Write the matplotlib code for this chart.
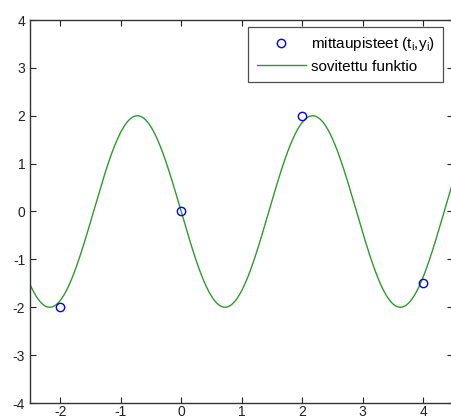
import numpy as np
import matplotlib
matplotlib.use("Agg")
import matplotlib.pyplot as plt

# measurement points (t_i, y_i)
t_points = [-2, 0, 2, 4]
y_points = [-2, 0, 2, -1.5]

# fitted function y = a*sin(w t) + b*cos(w t), coefficients
fit_a = -2.0
fit_b = 0.0
fit_w = 2.167

x_ticks = [-2, -1, 0, 1, 2, 3, 4]
y_ticks = [-4, -3, -2, -1, 0, 1, 2, 3, 4]
legend_labels = [r"mittaupisteet (t$_\mathregular{i}$,y$_\mathregular{i}$)", "sovitettu funktio"]

plt.rcParams['font.family'] = ['Liberation Sans', 'DejaVu Sans']
plt.rcParams['axes.unicode_minus'] = False
fig = plt.figure(figsize=(4.52, 4.19), dpi=100)
ax = fig.add_axes([30/452, 1 - 403/419, 423.3/452, 383/419])

t_fit = np.linspace(-2.5, 4.5, 800)
y_fit = fit_a * np.sin(fit_w * t_fit) + fit_b * np.cos(fit_w * t_fit)

ax.plot(t_points, y_points, 'o', mfc='none', mec='#0000ff', mew=1.0, ms=6,
        label=legend_labels[0], zorder=3)
ax.plot(t_fit, y_fit, '-', color='#2e9a2e', lw=1.0, label=legend_labels[1], zorder=2)

ax.set_xlim(-2.5, 4.5)
ax.set_ylim(-4, 4)
ax.set_xticks(x_ticks)
ax.set_yticks(y_ticks)
ax.tick_params(direction='in', length=4, width=0.8, top=True, right=True,
               labelsize=10, colors='#222222')
ax.tick_params(axis='x', pad=1.5)
ax.tick_params(axis='y', pad=3.5)
for s in ax.spines.values():
    s.set_color('#333333')
    s.set_linewidth(1.0)

leg = ax.legend(loc='upper right', bbox_to_anchor=(0.9757, 0.9817), borderaxespad=0,
                fontsize=11, frameon=True, fancybox=False, handlelength=3.2,
                handletextpad=0.33, labelspacing=0.4, borderpad=0.55)
leg.get_frame().set_edgecolor('#222222')
leg.get_frame().set_linewidth(0.9)

fig.savefig('out.png', dpi=100)
